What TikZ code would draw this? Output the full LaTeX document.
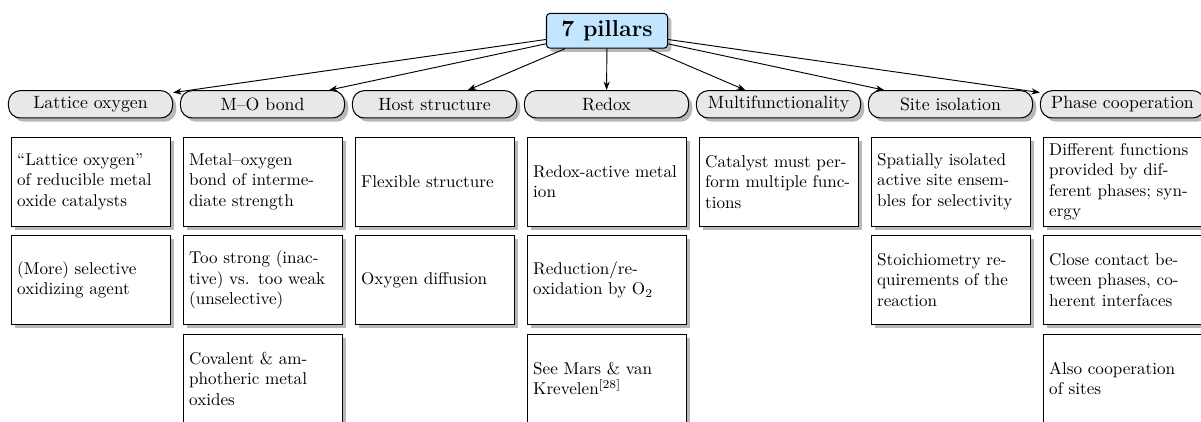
\documentclass[tikz,border=0pt]{standalone}
\usetikzlibrary{shadows,arrows.meta}
\definecolor{topblue}{HTML}{C2E6FF}
\begin{document}
\begin{tikzpicture}[x=0.585pt,y=-0.585pt,
  shd/.style={drop shadow={shadow xshift=2.2pt,shadow yshift=-2.2pt,fill=black!28,opacity=1}},
  topnode/.style={draw,line width=0.6pt,fill=topblue,rounded corners=2pt,minimum width=70.8pt,minimum height=20.3pt,inner sep=0pt,font=\fontsize{13.5}{16}\selectfont\bfseries,shd},
  cat/.style={draw,line width=0.6pt,fill=black!9,rounded corners=7pt,minimum width=96pt,minimum height=16pt,inner sep=0pt,font=\fontsize{10.4}{12.5}\selectfont,shd},
  boxnode/.style={draw,line width=0.6pt,fill=white,text width=86pt,inner xsep=3.5pt,inner ysep=0pt,minimum height=52pt,align=left,shd},
  arr/.style={-{Stealth[length=5pt,width=3.6pt]},line width=0.55pt}]
\useasboundingbox (0,0) rectangle (1201,421);
\clip (0,0) rectangle (1201,421);

\node[topnode] (t) at (607,30.8) {7 pillars};

\node[cat] (c0) at (90.5,104.3) {Lattice oxygen};
\node[cat] (c1) at (262.5,104.3) {M–O bond};
\node[cat] (c2) at (434.5,104.3) {Host structure};
\node[cat] (c3) at (606.5,104.3) {Redox};
\node[cat] (c4) at (778.5,104.3) {Multifunctionality};
\node[cat] (c5) at (950.5,104.3) {Site isolation};
\node[cat] (c6) at (1122.5,104.3) {Phase cooperation};

\foreach \i in {0,...,6} \draw[arr] (t) -- (c\i);

% column 0
\node[boxnode] (b01) at (90.7,181.7) {“Lattice oxygen”\\of reducible metal\\oxide catalysts};
\node[boxnode] (b02) at (90.7,280) {(More) selective\\oxidizing agent};
% column 1
\node[boxnode] (b11) at (262.7,181.7) {Metal–oxygen\\bond of interme-\\diate strength};
\node[boxnode] (b12) at (262.7,280) {Too strong (inac-\\tive) vs. too weak\\(unselective)};
\node[boxnode] (b13) at (262.7,378.6) {Covalent \& am-\\photheric metal\\oxides};
% column 2
\node[boxnode] (b21) at (434.7,181.7) {Flexible structure};
\node[boxnode] (b22) at (434.7,280) {Oxygen diffusion};
% column 3
\node[boxnode] (b31) at (606.7,181.7) {Redox-active metal\\ion};
\node[boxnode] (b32) at (606.7,280) {Reduction/re-\\oxidation by O$_2$};
\node[boxnode] (b33) at (606.7,378.6) {See Mars \& van\\Krevelen$^{[28]}$};
% column 4
\node[boxnode] (b41) at (778.7,181.7) {Catalyst must per-\\form multiple func-\\tions};
% column 5
\node[boxnode] (b51) at (950.7,181.7) {Spatially isolated\\active site ensem-\\bles for selectivity};
\node[boxnode] (b52) at (950.7,280) {Stoichiometry re-\\quirements of the\\reaction};
% column 6
\node[boxnode] (b61) at (1122.7,181.7) {Different functions\\provided by dif-\\ferent phases; syn-\\ergy};
\node[boxnode] (b62) at (1122.7,280) {Close contact be-\\tween phases, co-\\herent interfaces};
\node[boxnode] (b63) at (1122.7,378.6) {Also cooperation\\of sites};
\end{tikzpicture}
\end{document}
